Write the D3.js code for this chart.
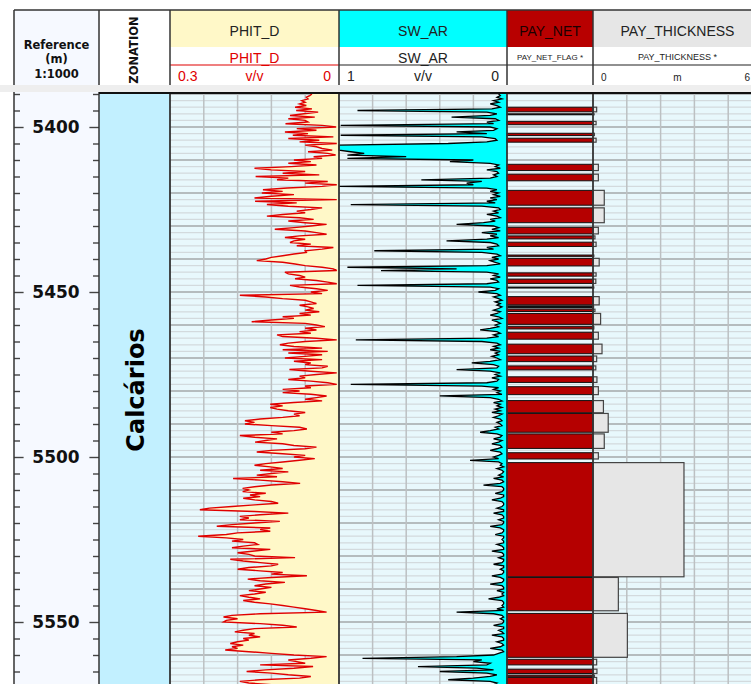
<!DOCTYPE html>
<html>
<head>
<meta charset="utf-8">
<script src="https://cdn.jsdelivr.net/npm/d3@7"></script>
<style>
  body { margin: 0; background: #ffffff; }
  svg { display: block; }
</style>
</head>
<body>
<svg id="log" width="751" height="684"></svg>
<script>
// ---- Log data (sampled every 0.5 m from 5390 m) ----
const depthStart = 5390;
const depthStep = 0.5;

// PHIT_D porosity, v/v
const phitD = [
  0.048,0.052,0.058,0.055,0.066,0.060,0.070,0.058,0.078,0.048,
  0.076,0.037,0.062,0.087,0.043,0.090,0.060,0.055,0.095,0.030,
  0.005,0.075,0.040,0.096,0.055,0.082,0.010,0.090,0.035,0.070,
  0.004,0.060,0.040,0.030,0.012,0.055,0.020,0.006,0.045,0.030,
  0.080,0.050,0.090,0.040,0.085,0.150,0.120,0.060,0.100,0.035,
  0.148,0.090,0.110,0.020,0.060,0.004,0.030,0.092,0.135,0.100,
  0.137,0.080,0.120,0.150,0.004,0.149,0.075,0.128,0.090,0.030,
  0.050,0.075,0.060,0.100,0.128,0.070,0.045,0.090,0.060,0.022,
  0.050,0.080,0.114,0.060,0.040,0.022,0.070,0.096,0.060,0.080,
  0.087,0.050,0.075,0.010,0.030,0.060,0.058,0.080,0.100,0.120,
  0.130,0.146,0.100,0.078,0.060,0.030,0.010,0.004,0.096,0.090,
  0.070,0.060,0.078,0.040,0.020,0.004,0.087,0.070,0.040,0.020,
  0.050,0.030,0.176,0.130,0.100,0.060,0.050,0.040,0.070,0.055,
  0.045,0.060,0.035,0.070,0.050,0.100,0.080,0.120,0.155,0.060,
  0.040,0.025,0.060,0.040,0.070,0.050,0.110,0.100,0.040,0.004,
  0.060,0.090,0.105,0.080,0.030,0.100,0.020,0.090,0.030,0.060,
  0.096,0.030,0.080,0.050,0.060,0.020,0.030,0.088,0.050,0.004,
  0.040,0.070,0.060,0.090,0.050,0.020,0.004,0.060,0.050,0.100,
  0.070,0.100,0.050,0.022,0.040,0.060,0.030,0.080,0.122,0.100,
  0.122,0.110,0.090,0.060,0.080,0.070,0.100,0.140,0.167,0.150,
  0.167,0.120,0.070,0.057,0.080,0.120,0.100,0.176,0.150,0.110,
  0.130,0.149,0.100,0.080,0.040,0.060,0.120,0.146,0.100,0.060,
  0.080,0.043,0.070,0.100,0.130,0.150,0.122,0.100,0.140,0.090,
  0.120,0.146,0.110,0.188,0.140,0.100,0.069,0.120,0.150,0.171,
  0.160,0.171,0.130,0.158,0.140,0.170,0.150,0.120,0.108,0.150,
  0.190,0.230,0.247,0.150,0.090,0.140,0.176,0.160,0.176,0.105,
  0.150,0.190,0.217,0.122,0.140,0.122,0.180,0.200,0.250,0.200,
  0.170,0.190,0.150,0.144,0.170,0.190,0.122,0.150,0.180,0.160,
  0.150,0.078,0.193,0.170,0.140,0.108,0.120,0.160,0.180,0.140,
  0.100,0.120,0.057,0.120,0.162,0.140,0.096,0.130,0.150,0.120,
  0.140,0.160,0.130,0.150,0.176,0.160,0.140,0.170,0.150,0.122,
  0.100,0.080,0.060,0.040,0.022,0.140,0.190,0.205,0.180,0.200,
  0.205,0.140,0.100,0.075,0.150,0.170,0.185,0.150,0.160,0.140,
  0.170,0.160,0.180,0.193,0.170,0.190,0.180,0.202,0.160,0.120,
  0.080,0.022,0.050,0.090,0.075,0.060,0.140,0.046,0.080,0.130,
  0.164,0.120,0.090,0.050,0.070,0.140,0.176,0.160,0.120
];

// SW_AR water saturation, v/v
const swAR = [
  0.05,0.04,0.06,0.03,0.08,0.05,0.10,0.06,0.04,0.09,
  0.89,0.12,0.06,0.10,0.33,0.07,0.05,0.12,0.08,0.99,
  0.10,0.06,0.08,0.30,0.12,0.99,0.15,0.07,0.06,0.12,
  0.35,1.00,1.00,1.00,1.00,0.93,0.85,0.95,0.60,0.95,
  0.20,0.34,0.10,0.05,0.07,0.04,0.12,0.06,0.05,0.08,
  0.06,0.10,0.51,0.15,0.24,0.20,1.00,0.12,0.06,0.10,
  0.05,0.08,0.04,0.10,0.06,0.12,0.07,0.93,0.15,0.05,
  0.04,0.08,0.05,0.12,0.06,0.04,0.10,0.07,0.14,0.30,
  0.08,0.05,0.09,0.04,0.15,0.06,0.10,0.05,0.12,0.36,
  0.10,0.06,0.05,0.12,0.08,0.79,0.15,0.06,0.04,0.09,
  0.05,0.10,0.07,0.04,0.12,0.95,0.30,0.75,0.12,0.05,
  0.08,0.04,0.10,0.06,0.05,0.12,0.89,0.10,0.05,0.07,
  0.17,0.06,0.04,0.08,0.05,0.03,0.07,0.04,0.06,0.03,
  0.05,0.08,0.04,0.06,0.10,0.05,0.03,0.09,0.06,0.04,
  0.07,0.05,0.10,0.16,0.06,0.04,0.08,0.05,0.12,0.90,
  0.15,0.06,0.04,0.08,0.05,0.10,0.04,0.07,0.05,0.09,
  0.06,0.04,0.10,0.21,0.08,0.05,0.06,0.30,0.10,0.04,
  0.07,0.04,0.09,0.05,0.06,0.12,0.93,0.15,0.05,0.08,
  0.04,0.06,0.03,0.40,0.10,0.05,0.03,0.08,0.04,0.06,
  0.03,0.07,0.04,0.09,0.03,0.05,0.08,0.04,0.03,0.06,
  0.04,0.03,0.07,0.05,0.10,0.16,0.06,0.03,0.04,0.08,
  0.03,0.05,0.09,0.04,0.03,0.06,0.10,0.04,0.03,0.05,
  0.08,0.05,0.22,0.05,0.03,0.04,0.02,0.06,0.03,0.02,
  0.03,0.05,0.02,0.08,0.03,0.02,0.04,0.14,0.03,0.02,
  0.02,0.03,0.07,0.02,0.02,0.04,0.09,0.03,0.02,0.02,
  0.03,0.06,0.02,0.02,0.08,0.03,0.02,0.02,0.05,0.02,
  0.02,0.03,0.10,0.04,0.02,0.02,0.03,0.07,0.02,0.02,
  0.03,0.02,0.02,0.06,0.03,0.02,0.02,0.09,0.03,0.02,
  0.02,0.05,0.02,0.02,0.03,0.08,0.02,0.02,0.04,0.02,
  0.02,0.03,0.09,0.04,0.02,0.02,0.03,0.10,0.03,0.02,
  0.02,0.06,0.02,0.03,0.02,0.05,0.11,0.03,0.02,0.02,
  0.03,0.02,0.06,0.02,0.30,0.08,0.03,0.02,0.04,0.02,
  0.02,0.03,0.08,0.02,0.02,0.05,0.03,0.02,0.09,0.03,
  0.02,0.02,0.06,0.03,0.02,0.04,0.10,0.03,0.02,0.05,
  0.08,0.30,0.86,0.15,0.20,0.10,0.12,0.53,0.18,0.08,
  0.40,0.12,0.06,0.10,0.20,0.35,0.10,0.06,0.08
];

// Net pay intervals (m) and pay thickness (m)
const payTop = [
  5394.0,5396.0,5398.3,5401.9,5403.4,5411.3,5414.3,5419.2,5424.5,5430.4,
  5433.0,5434.9,5438.8,5439.8,5444.2,5446.1,5448.5,5451.4,5454.2,5454.6,
  5455.2,5456.5,5460.5,5462.2,5465.8,5469.4,5472.4,5475.7,5478.7,5482.9,
  5486.8,5493.0,5498.7,5501.7,5536.5,5547.4,5561.3,5564.3,5566.1,5566.8
];
const payBase = [
  5395.4,5396.3,5399.3,5402.6,5404.6,5413.2,5416.3,5423.7,5429.0,5432.4,
  5433.9,5436.2,5439.2,5442.1,5445.2,5447.4,5448.8,5453.9,5454.4,5454.8,
  5455.9,5459.8,5461.2,5464.3,5468.7,5471.1,5473.6,5477.4,5481.1,5486.6,
  5492.5,5497.4,5500.6,5536.3,5546.6,5560.7,5563.0,5565.6,5566.6,5569.5
];
const payThickness = [
  0.13,0.04,0.11,0.05,0.11,0.19,0.19,0.40,0.40,0.19,
  0.07,0.11,0.03,0.22,0.11,0.10,0.03,0.22,0.02,0.02,
  0.07,0.27,0.03,0.19,0.32,0.13,0.10,0.14,0.19,0.37,
  0.54,0.40,0.19,3.23,0.90,1.22,0.13,0.14,0.05,0.13
];

const depthLabels = [5400, 5450, 5500, 5550];
const zoneName = "Calcários";

// ---- Layout ----
const svg = d3.select("#log");
const headTop = 10, headBottom = 85, bodyTop = 92, bodyBottom = 684;
const T = {
  depth: [14, 99], zone: [99, 170], phit: [170, 339],
  sw: [339, 507], net: [507, 593], thick: [593, 762]
};
const y = d3.scaleLinear().domain([5400, 5550]).range([127, 622]);
const xPhit = d3.scaleLinear().domain([0.3, 0]).range(T.phit);
const xSw = d3.scaleLinear().domain([1, 0]).range(T.sw);
const xThick = d3.scaleLinear().domain([0, 6]).range(T.thick);
const dTop = y.invert(bodyTop), dBot = y.invert(bodyBottom);

const phitPts = phitD.map((v, i) => ({ d: depthStart + i * depthStep, v }));
const swPts = swAR.map((v, i) => ({ d: depthStart + i * depthStep, v }));
const pays = payTop.map((t, i) => ({ top: t, base: payBase[i], th: payThickness[i] }));

const defs = svg.append("defs");
defs.append("clipPath").attr("id", "bodyClip")
  .append("rect").attr("x", 0).attr("y", bodyTop).attr("width", 800).attr("height", bodyBottom - bodyTop);

// ---- Header ----
const head = svg.append("g").attr("font-family", "'Liberation Sans', Arial, sans-serif");
head.append("rect").attr("x", 0).attr("y", headBottom).attr("width", 751).attr("height", bodyTop - headBottom).attr("fill", "#eeeeee");
head.append("rect").attr("x", T.depth[0]).attr("y", headTop).attr("width", T.depth[1] - T.depth[0]).attr("height", headBottom - headTop).attr("fill", "#f6f9ff");
head.append("rect").attr("x", T.zone[0]).attr("y", headTop).attr("width", T.thick[1] - T.zone[0]).attr("height", headBottom - headTop).attr("fill", "#ffffff");

const bands = [
  { k: "phit", fill: "#fff8c8", name: "PHIT_D", color: "#222" },
  { k: "sw", fill: "#00ffff", name: "SW_AR", color: "#222" },
  { k: "net", fill: "#b80000", name: "PAY_NET", color: "#1a0000" },
  { k: "thick", fill: "#e6e6e6", name: "PAY_THICKNESS", color: "#222" }
];
bands.forEach(b => {
  const [a, c] = T[b.k];
  head.append("rect").attr("x", a).attr("y", headTop).attr("width", c - a).attr("height", 37).attr("fill", b.fill);
  head.append("text").attr("x", (a + c) / 2).attr("y", 36).attr("text-anchor", "middle")
    .attr("font-size", 14).attr("fill", b.color).text(b.name);
});

// curve name row
const mid = k => (T[k][0] + T[k][1]) / 2;
head.append("text").attr("x", mid("phit")).attr("y", 63).attr("text-anchor", "middle").attr("font-size", 14).attr("fill", "#e00000").text("PHIT_D");
head.append("text").attr("x", mid("sw")).attr("y", 63).attr("text-anchor", "middle").attr("font-size", 14).attr("fill", "#222").text("SW_AR");
head.append("text").attr("x", mid("net")).attr("y", 60).attr("text-anchor", "middle").attr("font-size", 7.5).attr("fill", "#222").attr("textLength", 66).attr("lengthAdjust", "spacingAndGlyphs").text("PAY_NET_FLAG *");
head.append("text").attr("x", mid("thick")).attr("y", 60).attr("text-anchor", "middle").attr("font-size", 9).attr("fill", "#222").text("PAY_THICKNESS *");

// row separator lines (curve line style)
head.append("line").attr("x1", T.phit[0]).attr("x2", T.phit[1]).attr("y1", 65).attr("y2", 65).attr("stroke", "#e00000").attr("stroke-width", 1.2);
head.append("line").attr("x1", T.sw[0]).attr("x2", T.thick[1]).attr("y1", 65).attr("y2", 65).attr("stroke", "#222").attr("stroke-width", 1.2);

// scale row
function scaleRow(k, left, unit, right, color, size, rightEdge) {
  const [a, c] = T[k];
  const ty = 81;
  const r = rightEdge !== undefined ? rightEdge : c - 8;
  head.append("text").attr("x", a + 8).attr("y", ty).attr("font-size", size).attr("fill", color).text(left);
  head.append("text").attr("x", (a + c) / 2).attr("y", ty).attr("text-anchor", "middle").attr("font-size", size).attr("fill", color).text(unit);
  head.append("text").attr("x", r).attr("y", ty).attr("text-anchor", "end").attr("font-size", size).attr("fill", color).text(right);
}
scaleRow("phit", "0.3", "v/v", "0", "#e00000", 14);
scaleRow("sw", "1", "v/v", "0", "#222", 14);
scaleRow("thick", "0", "m", "6", "#222", 10, 750);

// depth header text
const hdr = head.append("g").attr("font-family", "'DejaVu Sans', Verdana, sans-serif").attr("font-weight", "bold").attr("fill", "#111").attr("text-anchor", "middle");
hdr.append("text").attr("x", 56.5).attr("y", 48.5).attr("font-size", 11.5).text("Reference");
hdr.append("text").attr("x", 56.5).attr("y", 63).attr("font-size", 11.5).text("(m)");
hdr.append("text").attr("x", 56.5).attr("y", 77.5).attr("font-size", 11.5).text("1:1000");
hdr.append("text").attr("transform", "translate(138,50) rotate(-90)").attr("font-size", 11.5).text("ZONATION");

// header frame
const hf = head.append("g").attr("stroke", "#333").attr("stroke-width", 1.5);
hf.append("line").attr("x1", T.depth[0]).attr("x2", 751).attr("y1", headTop).attr("y2", headTop);
[T.depth[0], T.zone[0], T.phit[0], T.sw[0], T.net[0], T.thick[0]].forEach(x =>
  hf.append("line").attr("x1", x).attr("x2", x).attr("y1", headTop).attr("y2", headBottom));

// ---- Body ----
const body = svg.append("g").attr("clip-path", "url(#bodyClip)");

body.append("rect").attr("x", T.depth[0]).attr("y", bodyTop).attr("width", T.depth[1] - T.depth[0]).attr("height", bodyBottom - bodyTop).attr("fill", "#f6f9ff");
body.append("rect").attr("x", T.zone[0]).attr("y", bodyTop).attr("width", T.zone[1] - T.zone[0]).attr("height", bodyBottom - bodyTop).attr("fill", "#c2f0ff");
body.append("rect").attr("x", T.phit[0]).attr("y", bodyTop).attr("width", T.thick[1] - T.phit[0]).attr("height", bodyBottom - bodyTop).attr("fill", "#e8f8fc");

// depth grid: every 2 m, heavier every 10 m
const gridDepths = d3.range(Math.ceil(dTop / 2) * 2, dBot, 2);
const grid = body.append("g");
grid.selectAll("line.h").data(gridDepths).join("line")
  .attr("x1", T.phit[0]).attr("x2", T.thick[1])
  .attr("y1", d => y(d)).attr("y2", d => y(d))
  .attr("stroke", d => d % 10 === 0 ? "#a4a8aa" : "#d3dadd")
  .attr("stroke-width", d => d % 10 === 0 ? 1.4 : 1.3);

// vertical grid
const vGrid = [
  ...[0.24, 0.18, 0.12, 0.06].map(v => xPhit(v)),
  ...[0.8, 0.6, 0.4, 0.2].map(v => xSw(v)),
  ...[1.2, 2.4, 3.6, 4.8].map(v => xThick(v))
];
grid.selectAll("line.v").data(vGrid).join("line")
  .attr("x1", d => d).attr("x2", d => d).attr("y1", bodyTop).attr("y2", bodyBottom)
  .attr("stroke", "#bcc0c2").attr("stroke-width", 1.5);

// PHIT_D: fill toward 0 then curve
body.append("path").datum(phitPts)
  .attr("d", d3.area().y(p => y(p.d)).x0(T.phit[1]).x1(p => xPhit(p.v)))
  .attr("fill", "#fff8c8");
body.append("path").datum(phitPts)
  .attr("d", d3.line().y(p => y(p.d)).x(p => xPhit(p.v)))
  .attr("fill", "none").attr("stroke", "#e00000").attr("stroke-width", 1.4).attr("stroke-linejoin", "miter");

// SW_AR: cyan fill toward 0 then curve
body.append("path").datum(swPts)
  .attr("d", d3.area().y(p => y(p.d)).x0(T.sw[1]).x1(p => xSw(p.v)))
  .attr("fill", "#00ffff");
body.append("path").datum(swPts)
  .attr("d", d3.line().y(p => y(p.d)).x(p => xSw(p.v)))
  .attr("fill", "none").attr("stroke", "#000").attr("stroke-width", 1.3);

// PAY_NET flag blocks
body.append("g").selectAll("rect").data(pays).join("rect")
  .attr("x", T.net[0]).attr("width", T.net[1] - T.net[0])
  .attr("y", p => y(p.top)).attr("height", p => Math.max(0.5, y(p.base) - y(p.top)))
  .attr("fill", "#b50000").attr("stroke", "#111").attr("stroke-width", 1);

// PAY_THICKNESS bars
body.append("g").selectAll("rect").data(pays).join("rect")
  .attr("x", T.thick[0]).attr("width", p => xThick(p.th) - T.thick[0])
  .attr("y", p => y(p.top)).attr("height", p => Math.max(0.5, y(p.base) - y(p.top)))
  .attr("fill", "#e6e6e6").attr("stroke", "#444").attr("stroke-width", 1.2);

// zone label
body.append("text")
  .attr("transform", `translate(${(T.zone[0] + T.zone[1]) / 2 + 9},390) rotate(-90)`)
  .attr("text-anchor", "middle")
  .attr("font-family", "'DejaVu Sans', Verdana, sans-serif").attr("font-weight", "bold")
  .attr("font-size", 24).attr("fill", "#000").text(zoneName);

// depth axis ticks on both edges of the reference track
const tickDepths = d3.range(Math.ceil(dTop / 5) * 5, dBot, 5);
const axL = d3.axisRight(y).tickValues(tickDepths).tickSize(6).tickFormat("");
const axR = d3.axisLeft(y).tickValues(tickDepths).tickSize(6).tickFormat("");
const gL = body.append("g").attr("transform", `translate(${T.depth[0]},0)`).call(axL);
const gR = body.append("g").attr("transform", `translate(${T.depth[1]},0)`).call(axR);
[gL, gR].forEach(g => {
  g.select(".domain").remove();
  g.selectAll(".tick line").attr("stroke", "#444").attr("stroke-width", 1.4)
    .attr("x2", function(d) { const s = +this.getAttribute("x2"); return depthLabels.includes(d) ? s * 1.6 : s; });
});
body.append("g").selectAll("text").data(depthLabels).join("text")
  .attr("x", 56).attr("y", d => y(d)).attr("dy", "0.36em").attr("text-anchor", "middle")
  .attr("font-family", "'DejaVu Sans', Verdana, sans-serif").attr("font-weight", "bold")
  .attr("font-size", 17).attr("fill", "#111").text(d => d);

// track borders
const bf = body.append("g").attr("stroke", "#333");
[T.depth[0], T.depth[1]].forEach(x => bf.append("line").attr("x1", x).attr("x2", x).attr("y1", bodyTop).attr("y2", bodyBottom).attr("stroke-width", 1.5));
[T.zone[1], T.phit[1], T.sw[1], T.net[1]].forEach(x => bf.append("line").attr("x1", x).attr("x2", x).attr("y1", bodyTop).attr("y2", bodyBottom).attr("stroke-width", 1.8));
bf.append("line").attr("x1", T.zone[0]).attr("x2", 751).attr("y1", bodyTop + 1).attr("y2", bodyTop + 1).attr("stroke", "#111").attr("stroke-width", 2.2);
</script>
</body>
</html>
